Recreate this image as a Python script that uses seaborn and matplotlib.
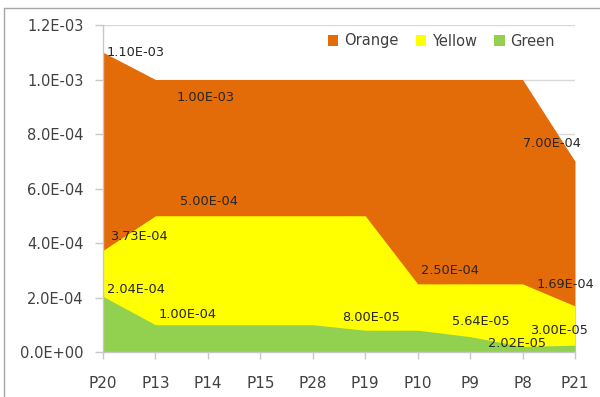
import matplotlib
matplotlib.use("Agg")
import matplotlib.pyplot as plt
import seaborn as sns
import numpy as np
from matplotlib.patches import Patch
from matplotlib.lines import Line2D

# Data
categories = ['P20', 'P13', 'P14', 'P15', 'P28', 'P19', 'P10', 'P9', 'P8', 'P21']
orange = [1.10e-3, 1.00e-3, 1.00e-3, 1.00e-3, 1.00e-3, 1.00e-3, 1.00e-3, 1.00e-3, 1.00e-3, 7.00e-4]
yellow = [3.73e-4, 5.00e-4, 5.00e-4, 5.00e-4, 5.00e-4, 5.00e-4, 2.50e-4, 2.50e-4, 2.50e-4, 1.69e-4]
green = [2.04e-4, 1.00e-4, 1.00e-4, 1.00e-4, 1.00e-4, 8.00e-5, 8.00e-5, 5.64e-5, 2.02e-5, 2.50e-5]

y_ticks = [0, 2e-4, 4e-4, 6e-4, 8e-4, 1.0e-3, 1.2e-3]
y_tick_labels = ['0.0E+00', '2.0E-04', '4.0E-04', '6.0E-04', '8.0E-04', '1.0E-03', '1.2E-03']

# data labels: (series, category index, text)
label_series = ['Orange', 'Orange', 'Orange', 'Yellow', 'Yellow', 'Green', 'Green',
                'Yellow', 'Yellow', 'Green', 'Green', 'Green', 'Green']
label_idx = [0, 1, 9, 1, 0, 0, 1, 6, 9, 5, 7, 8, 9]
label_text = ['1.10E-03', '1.00E-03', '7.00E-04', '5.00E-04', '3.73E-04', '2.04E-04', '1.00E-04',
              '2.50E-04', '1.69E-04', '8.00E-05', '5.64E-05', '2.02E-05', '3.00E-05']
# label offsets in pixels (layout)
label_off = [(33, 0), (50, -18), (-23, 18), (53, 14), (36, 14), (33, 7), (32, 10),
             (32, 13), (-10, 21), (6, 13), (11, 15), (-6, 3), (-16, 15)]

series = {'Orange': orange, 'Yellow': yellow, 'Green': green}
colors = {'Orange': '#E36C09', 'Yellow': '#FFFF00', 'Green': '#92D050'}

sns.set_theme(style='white')
plt.rcParams['font.family'] = ['DejaVu Sans']

fig = plt.figure(figsize=(6, 3.97), dpi=100)
ax = fig.add_axes([103 / 600, 1 - 352 / 397, (575 - 103) / 600, (352 - 25) / 397])

x = np.arange(len(categories))
for name in ['Orange', 'Yellow', 'Green']:
    ax.fill_between(x, 0, series[name], color=colors[name], linewidth=0, zorder=2)

ax.set_xlim(0, len(categories) - 1)
ax.set_ylim(0, 1.2e-3)
ax.set_yticks(y_ticks)
ax.set_yticklabels(y_tick_labels)
ax.set_xticks(x)
ax.set_xticklabels(categories)

ax.yaxis.grid(True, color='#d9d9d9', linewidth=1, zorder=0)
ax.set_axisbelow(True)
ax.tick_params(axis='y', length=6, width=1, color='#c8c8c8', labelsize=10.5, labelcolor='#404040', pad=8, left=True)
ax.tick_params(axis='x', length=5, width=1, color='#c8c8c8', labelsize=11, labelcolor='#404040', pad=12, bottom=True)
for s in ['top', 'right']:
    ax.spines[s].set_visible(False)
for s in ['left', 'bottom']:
    ax.spines[s].set_color('#c8c8c8')
    ax.spines[s].set_linewidth(1)
    ax.spines[s].set_zorder(3)

for s, i, t, off in zip(label_series, label_idx, label_text, label_off):
    ax.annotate(t, xy=(i, series[s][i]), xytext=off, textcoords='offset pixels',
                ha='center', va='center', fontsize=9.3, color='#262626', zorder=5,
                annotation_clip=False)

handles = [Patch(facecolor=colors[n], edgecolor='none', label=n) for n in ['Orange', 'Yellow', 'Green']]
leg = fig.legend(handles=handles, loc='center right', bbox_to_anchor=(568 / 600, 1 - 41 / 397),
                 ncol=3, frameon=False, fontsize=10.5, handlelength=0.7, handleheight=0.7,
                 handletextpad=0.4, columnspacing=1.2, labelcolor='#404040')

# outer chart border (left/top visible)
fig.add_artist(Line2D([4 / 600, 4 / 600], [0, 1 - 8 / 397], transform=fig.transFigure, color='#a6a6a6', linewidth=1))
fig.add_artist(Line2D([4 / 600, 1], [1 - 8 / 397, 1 - 8 / 397], transform=fig.transFigure, color='#a6a6a6', linewidth=1))

fig.savefig('out.png', dpi=100)
